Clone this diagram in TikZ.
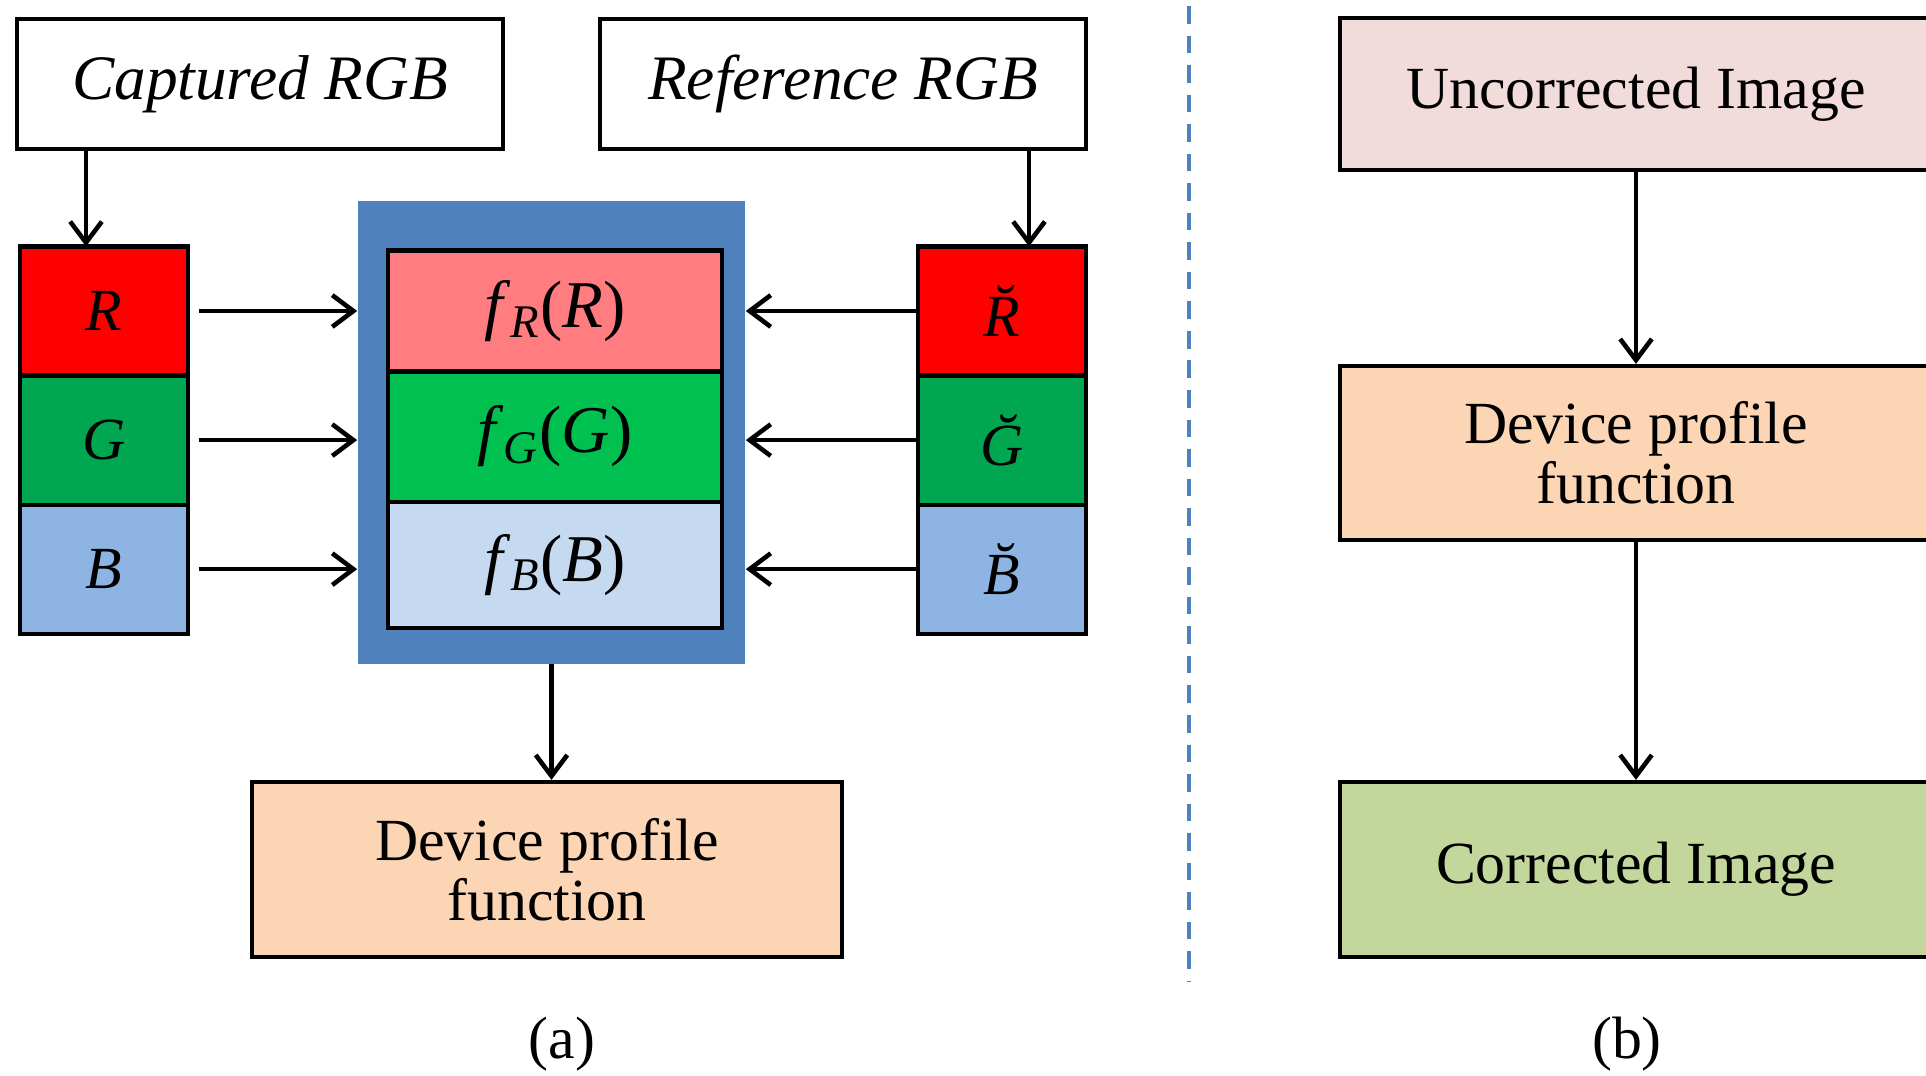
\documentclass[tikz,border=0pt]{standalone}
\usepackage{fontspec}
\setmainfont{Liberation Serif}
\usetikzlibrary{arrows.meta,positioning}

\definecolor{chanred}{RGB}{255,0,0}
\definecolor{changreen}{RGB}{0,166,80}
\definecolor{chanblue}{RGB}{141,180,226}
\definecolor{funred}{RGB}{255,124,128}
\definecolor{fungreen}{RGB}{0,192,80}
\definecolor{funblue}{RGB}{197,217,241}
\definecolor{frameblue}{RGB}{79,129,189}
\definecolor{peach}{RGB}{252,213,181}
\definecolor{rosy}{RGB}{242,220,219}
\definecolor{olive}{RGB}{195,214,155}

\tikzset{
  rgbtitle/.style={draw, line width=1.2pt, fill=white, minimum width=4.86cm,
    minimum height=1.30cm, font=\fontsize{18}{18}\selectfont\itshape},
  cell/.style={draw, line width=1.2pt, minimum width=1.68cm, minimum height=1.29cm,
    inner sep=0pt, outer sep=0pt, font=\fontsize{17}{17}\selectfont\itshape},
  funcell/.style={draw, line width=1.2pt, minimum width=3.34cm, inner sep=0pt,
    outer sep=0pt, font=\fontsize{19}{19}\selectfont},
  stage/.style={draw, line width=1.2pt, align=center,
    font=\fontsize{17}{17}\selectfont},
  sublabel/.style={font=\fontsize{17}{17}\selectfont},
  arr/.style={line width=1.3pt, -{Straight Barb[length=6pt,width=9pt]}}
}

\begin{document}
\begin{tikzpicture}[x=0.01cm, y=-0.01cm]
\clip (0,0) rectangle (1926,1075);
\fill[white] (0,0) rectangle (1926,1075);

% (a) fitting the device profile
\node[rgbtitle] (cap) at (260,84) {Captured RGB};
\node[rgbtitle] (ref) at (843,84) {Reference RGB};

\node[cell, fill=chanred] (R) at (104,311) {R};
\node[cell, fill=changreen, below=0pt of R] (G) {G};
\node[cell, fill=chanblue, below=0pt of G] (B) {B};

\node[cell, fill=chanred] (Rb) at (1002,311) {\u{R}};
\node[cell, fill=changreen, below=0pt of Rb] (Gb) {\u{G}};
\node[cell, fill=chanblue, below=0pt of Gb] (Bb) {\u{B}};

\node[fill=frameblue, minimum width=3.87cm, minimum height=4.62cm,
  inner sep=0pt] (fbox) at (551.5,432.5) {};
\node[funcell, fill=funred, minimum height=1.21cm] (fR) at (555,311)
  {\textit{f}\textsubscript{\textit{R}}(\textit{R})};
\node[funcell, fill=fungreen, minimum height=1.30cm, below=0pt of fR] (fG)
  {\textit{f}\textsubscript{\textit{G}}(\textit{G})};
\node[funcell, fill=funblue, minimum height=1.26cm, below=0pt of fG] (fB)
  {\textit{f}\textsubscript{\textit{B}}(\textit{B})};

\node[stage, fill=peach, minimum width=5.90cm, minimum height=1.75cm]
  (dpf) at (547,869.5) {Device profile\\function};

\draw[arr] ([xshift=-0.18cm]R.north |- cap.south) -- ([xshift=-0.18cm]R.north);
\draw[arr] ([xshift=0.27cm]Rb.north |- ref.south) -- ([xshift=0.27cm]Rb.north);
\foreach \c in {R,G,B} {
  \draw[arr, shorten <=3pt] (\c) -- (\c -| fbox.west);
  \draw[arr] (\c b) -- (\c b -| fbox.east);
}
\draw[arr] (fbox.south) -- (fbox.south |- dpf.north);

\node[sublabel] (capa) at (562,1044) {(a)};

% divider
\draw[frameblue, line width=0.9pt, dash pattern=on 5pt off 3.4pt]
  (1189,6) -- (1189,982);

% (b) applying the device profile
\node[stage, fill=rosy, minimum width=5.92cm, minimum height=1.52cm]
  (unc) at (1636,94) {Uncorrected Image};
\node[stage, fill=peach, minimum width=5.92cm, minimum height=1.74cm]
  (dpfb) at (1636,453) {Device profile\\function};
\node[stage, fill=olive, minimum width=5.92cm, minimum height=1.75cm]
  (cor) at (1636,869.5) {Corrected Image};

\draw[arr] (unc) -- (dpfb);
\draw[arr] (dpfb) -- (cor);

\node[sublabel] (capb) at (1627,1044) {(b)};
\end{tikzpicture}
\end{document}
